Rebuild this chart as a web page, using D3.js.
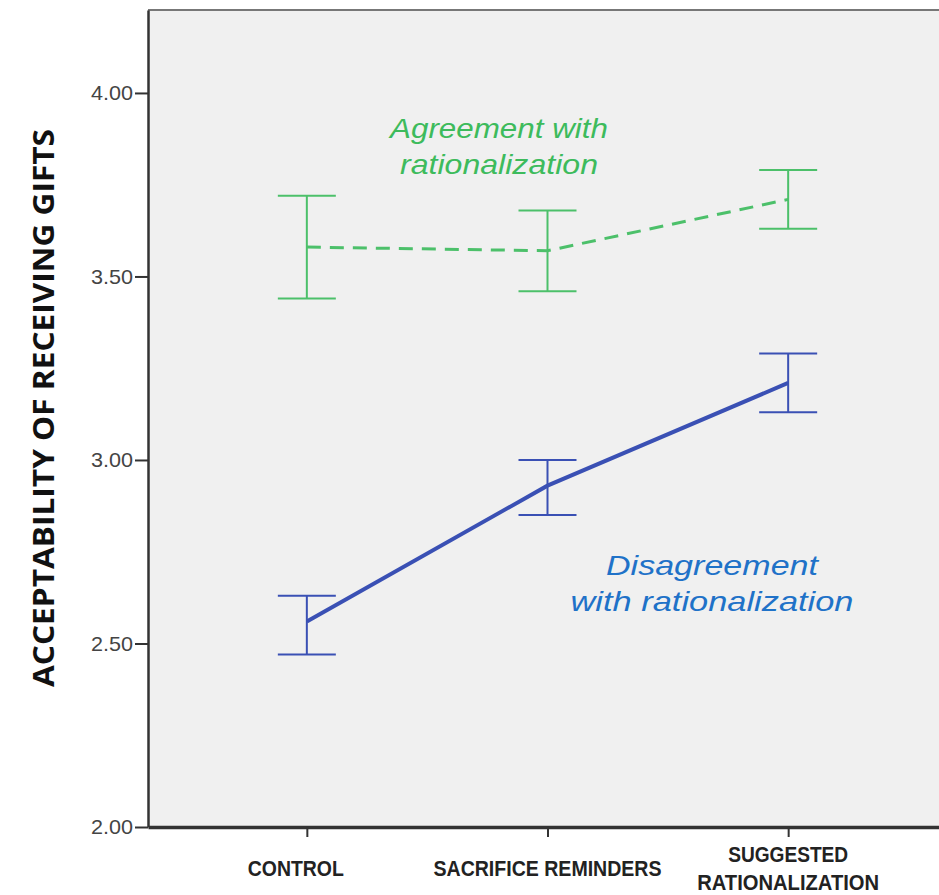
<!DOCTYPE html>
<html lang="en">
<head>
<meta charset="utf-8">
<title>Acceptability of receiving gifts</title>
<script src="https://cdn.jsdelivr.net/npm/d3@7"></script>
<style>
  body { margin: 0; background: #fff; }
  svg { display: block; }
</style>
</head>
<body>
<div id="chart"></div>
<script>
// conditions on the x axis
var conditions = ["CONTROL", "SACRIFICE REMINDERS", "SUGGESTED RATIONALIZATION"];
var conditionLines = [["CONTROL"], ["SACRIFICE REMINDERS"], ["SUGGESTED", "RATIONALIZATION"]];

// agreement with rationalization (green, dashed)
var agreeMean = [3.58, 3.57, 3.71];
var agreeLow  = [3.44, 3.46, 3.63];
var agreeHigh = [3.72, 3.68, 3.79];

// disagreement with rationalization (blue, solid)
var disagreeMean = [2.56, 2.93, 3.21];
var disagreeLow  = [2.47, 2.85, 3.13];
var disagreeHigh = [2.63, 3.00, 3.29];

var yTicks = [2.0, 2.5, 3.0, 3.5, 4.0];

var W = 939, H = 895;
var plotL = 148, plotT = 10, plotR = 947, plotB = 827;

var svg = d3.select("#chart").append("svg")
    .attr("width", W)
    .attr("height", H);

var x = d3.scalePoint()
    .domain(conditions)
    .range([plotL, plotR])
    .padding(0.66);

var y = d3.scaleLinear()
    .domain([2, 4.226])
    .range([plotB, plotT]);

// plot background
svg.append("rect")
    .attr("x", plotL).attr("y", plotT)
    .attr("width", plotR - plotL).attr("height", plotB - plotT)
    .attr("fill", "#f0f0f0");

// top frame line
svg.append("line")
    .attr("x1", plotL).attr("x2", W)
    .attr("y1", plotT).attr("y2", plotT)
    .attr("stroke", "#777").attr("stroke-width", 2);

// y axis
var yAxis = svg.append("g")
    .attr("transform", "translate(" + plotL + ",0)")
    .call(d3.axisLeft(y).tickValues(yTicks).tickFormat(d3.format(".2f"))
        .tickSize(13).tickSizeOuter(0).tickPadding(2));
yAxis.select(".domain").attr("stroke", "#333").attr("stroke-width", 2.5);
yAxis.selectAll(".tick line").attr("stroke", "#333").attr("stroke-width", 2);
yAxis.selectAll(".tick text")
    .attr("fill", "#444")
    .attr("font-family", "Arial, 'Liberation Sans', sans-serif")
    .attr("font-size", 21)
    .attr("textLength", 42)
    .attr("lengthAdjust", "spacingAndGlyphs");

// x axis
var xAxis = svg.append("g")
    .attr("transform", "translate(0," + plotB + ")")
    .call(d3.axisBottom(x).tickSize(10).tickSizeOuter(0).tickFormat(""));
xAxis.select(".domain").attr("stroke", "#333").attr("stroke-width", 3.5);
xAxis.selectAll(".tick line").attr("stroke", "#333").attr("stroke-width", 2);

// x labels (bold condensed look)
var widths = { "CONTROL": 96, "SACRIFICE REMINDERS": 228, "SUGGESTED": 120, "RATIONALIZATION": 182 };
var xl = svg.append("g");
conditions.forEach(function(c, i) {
    var lines = conditionLines[i];
    lines.forEach(function(t, j) {
        var yy = lines.length === 1 ? 876 : 862 + j * 28;
        xl.append("text")
            .attr("x", x(c) - (i === 0 ? 11 : 0))
            .attr("y", yy)
            .attr("text-anchor", "middle")
            .attr("textLength", widths[t])
            .attr("lengthAdjust", "spacingAndGlyphs")
            .style("font-family", "'Liberation Sans', Arial, sans-serif")
            .style("font-weight", "bold")
            .style("font-size", "22px")
            .attr("fill", "#222")
            .text(t);
    });
});

// y title
svg.append("text")
    .attr("transform", "translate(54,408) rotate(-90)")
    .attr("text-anchor", "middle")
    .attr("textLength", 558)
    .attr("lengthAdjust", "spacingAndGlyphs")
    .style("font-family", "'Open Sans', 'Liberation Sans', sans-serif")
    .style("font-weight", "bold")
    .style("font-size", "29px")
    .attr("fill", "#111")
    .text("ACCEPTABILITY OF RECEIVING GIFTS");

function drawSeries(mean, low, high, color, width, dash) {
    var g = svg.append("g");
    var pts = conditions.map(function(c, i) { return [x(c), y(mean[i])]; });
    g.append("path")
        .attr("d", d3.line()(pts))
        .attr("fill", "none")
        .attr("stroke", color)
        .attr("stroke-width", width)
        .attr("stroke-dasharray", dash);
    conditions.forEach(function(c, i) {
        var cx = x(c);
        g.append("line")
            .attr("x1", cx).attr("x2", cx)
            .attr("y1", y(low[i])).attr("y2", y(high[i]))
            .attr("stroke", color).attr("stroke-width", 2);
        [low[i], high[i]].forEach(function(v) {
            g.append("line")
                .attr("x1", cx - 29).attr("x2", cx + 29)
                .attr("y1", y(v)).attr("y2", y(v))
                .attr("stroke", color).attr("stroke-width", 2);
        });
    });
}

drawSeries(agreeMean, agreeLow, agreeHigh, "#4cc06a", 3, "14,9");
drawSeries(disagreeMean, disagreeLow, disagreeHigh, "#3a50b4", 4, null);

// in-plot labels
function label(lines, lens, cx, y0, color) {
    lines.forEach(function(t, i) {
        svg.append("text")
            .attr("x", cx).attr("y", y0 + i * 36)
            .attr("text-anchor", "middle")
            .attr("textLength", lens[i])
            .attr("lengthAdjust", "spacingAndGlyphs")
            .style("font-family", "Arial, 'Liberation Sans', sans-serif")
            .style("font-style", "italic")
            .style("font-size", "28px")
            .attr("fill", color)
            .text(t);
    });
}
label(["Agreement with", "rationalization"], [218, 198], 499, 138, "#3dbb5c");
label(["Disagreement", "with rationalization"], [212, 283], 712, 575, "#1f72c8");
</script>
</body>
</html>
